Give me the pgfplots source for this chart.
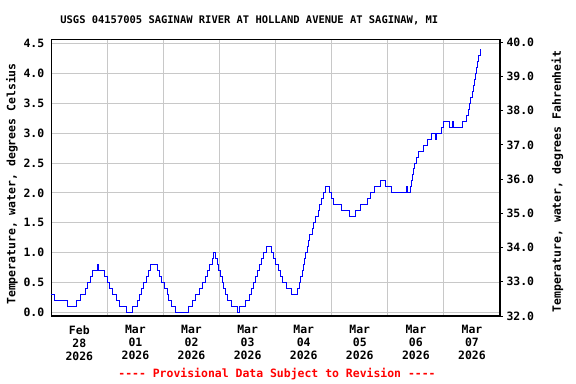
\documentclass[border=0pt]{standalone}
\usepackage{fontspec}
\setmainfont{DejaVu Sans Mono}
\usepackage{pgfplots}
\pgfplotsset{compat=1.18}
\definecolor{gridgray}{RGB}{200,200,200}
\definecolor{usgsred}{RGB}{255,0,0}
\newcommand{\tf}{\bfseries\fontsize{11.5}{13}\selectfont}
\begin{document}
\begin{tikzpicture}
\begin{axis}[
  scale only axis,
  width=448.7bp, height=276.7bp,
  xmin=0, xmax=8, ymin=-0.056, ymax=4.567,
  axis line style={black, line width=1.2bp},
  xtick={0.5,1.5,2.5,3.5,4.5,5.5,6.5,7.5},
  xticklabels={{Feb\\28\\2026},{Mar\\01\\2026},{Mar\\02\\2026},{Mar\\03\\2026},{Mar\\04\\2026},{Mar\\05\\2026},{Mar\\06\\2026},{Mar\\07\\2026}},
  minor xtick={1,2,3,4,5,6,7},
  xminorgrids=true, xmajorgrids=false,
  ytick={0,0.5,1,1.5,2,2.5,3,3.5,4,4.5},
  ymajorgrids=true,
  major tick length=0pt, minor tick length=0pt,
  grid style={gridgray, line width=1bp},
  minor grid style={gridgray, line width=1bp},
  xtick pos=bottom, ytick pos=left,
  xticklabel style={align=center, font=\tf, yshift=-6bp},
  yticklabel style={font=\tf, xshift=-3.5bp, /pgf/number format/fixed, /pgf/number format/zerofill, /pgf/number format/precision=1},
  extra y ticks={-0.056,0.516,1.087,1.659,2.230,2.802,3.374,3.945,4.517},
  extra y tick labels={32.0,33.0,34.0,35.0,36.0,37.0,38.0,39.0,40.0},
  extra y tick style={ytick pos=right, yticklabel pos=right, tick align=outside, major tick length=3bp, grid=none, tick style={black, line width=1bp}, yticklabel style={xshift=3.5bp}},
  /pgf/number format/assume math mode=true,
  clip=false,
]
\addplot[blue, line width=1bp, const plot] coordinates {
(0.000,0.3) (0.065,0.2) (0.286,0.1) (0.446,0.2) (0.518,0.3) (0.607,0.4) (0.649,0.5) (0.696,0.6) (0.726,0.7) (0.815,0.8) (0.833,0.7) (0.946,0.6) (0.994,0.5) (1.030,0.4) (1.089,0.3) (1.161,0.2) (1.220,0.1) (1.333,0.0) (1.446,0.1) (1.530,0.2) (1.577,0.3) (1.613,0.4) (1.649,0.5) (1.696,0.6) (1.726,0.7) (1.768,0.8) (1.899,0.7) (1.935,0.6) (1.964,0.5) (2.012,0.4) (2.065,0.3) (2.095,0.2) (2.137,0.1) (2.208,0.0) (2.452,0.1) (2.518,0.2) (2.577,0.3) (2.649,0.4) (2.696,0.5) (2.744,0.6) (2.780,0.7) (2.827,0.8) (2.875,0.9) (2.899,1.0) (2.929,0.9) (2.958,0.8) (2.988,0.7) (3.018,0.6) (3.054,0.5) (3.077,0.4) (3.113,0.3) (3.149,0.2) (3.208,0.1) (3.315,0.0) (3.351,0.1) (3.458,0.2) (3.530,0.3) (3.577,0.4) (3.613,0.5) (3.649,0.6) (3.685,0.7) (3.720,0.8) (3.756,0.9) (3.786,1.0) (3.845,1.1) (3.923,1.0) (3.964,0.9) (4.000,0.8) (4.042,0.7) (4.083,0.6) (4.125,0.5) (4.190,0.4) (4.286,0.3) (4.381,0.4) (4.417,0.5) (4.446,0.6) (4.476,0.7) (4.500,0.8) (4.518,0.9) (4.536,1.0) (4.560,1.1) (4.577,1.2) (4.601,1.3) (4.649,1.4) (4.679,1.5) (4.702,1.6) (4.762,1.7) (4.786,1.8) (4.821,1.9) (4.845,2.0) (4.893,2.1) (4.952,2.0) (4.988,1.9) (5.024,1.8) (5.173,1.7) (5.310,1.6) (5.423,1.7) (5.506,1.8) (5.643,1.9) (5.690,2.0) (5.762,2.1) (5.869,2.2) (5.964,2.1) (6.071,2.0) (6.327,2.1) (6.345,2.0) (6.399,2.1) (6.417,2.2) (6.435,2.3) (6.452,2.4) (6.476,2.5) (6.506,2.6) (6.548,2.7) (6.631,2.8) (6.702,2.9) (6.774,3.0) (6.851,2.9) (6.875,3.0) (6.952,3.1) (6.988,3.2) (7.095,3.1) (7.155,3.2) (7.173,3.1) (7.333,3.2) (7.405,3.3) (7.440,3.4) (7.464,3.5) (7.482,3.6) (7.512,3.7) (7.530,3.8) (7.554,3.9) (7.565,4.0) (7.583,4.1) (7.601,4.2) (7.625,4.3) (7.649,4.4) (7.667,4.4)
};
\coordinate (P) at (rel axis cs:-0.11433,-0.24575);
\coordinate (Q) at (rel axis cs:1.16938,1.14203);
\end{axis}
\useasboundingbox (P) rectangle (Q);
\node[font=\bfseries\fontsize{10.5}{12}\selectfont] at ([shift={(249.3bp,364bp)}]P) {USGS 04157005 SAGINAW RIVER AT HOLLAND AVENUE AT SAGINAW, MI};
\node[font=\tf, rotate=90] at ([shift={(12bp,200bp)}]P) {Temperature, water, degrees Celsius};
\node[font=\tf, rotate=90] at ([shift={(557.5bp,202.5bp)}]P) {Temperature, water, degrees Fahrenheit};
\node[font=\tf, text=usgsred] at ([shift={(277bp,9.5bp)}]P) {{-}{-}{-}{-} Provisional Data Subject to Revision {-}{-}{-}{-}};
\end{tikzpicture}
\end{document}
